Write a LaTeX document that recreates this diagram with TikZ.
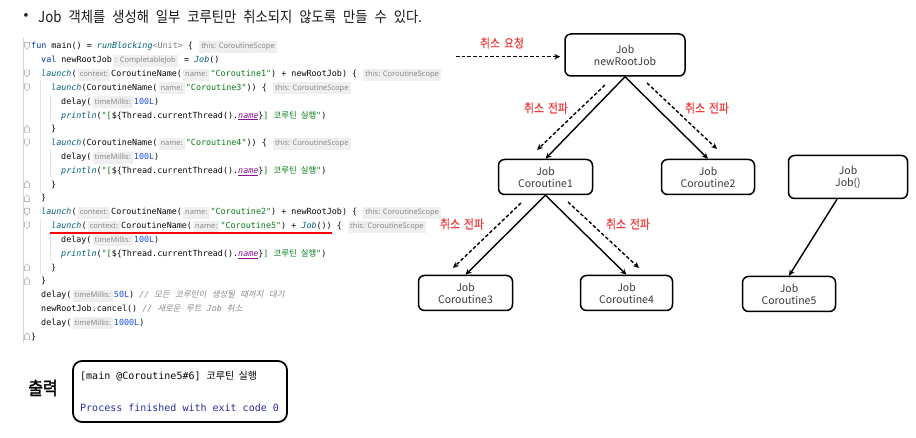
\documentclass[tikz,border=0pt]{standalone}
\usepackage{fontspec}
\usepackage{graphicx}
\usetikzlibrary{arrows.meta,calc}
\setmainfont{Noto Sans CJK KR}
\newfontfamily\krsans{Noto Sans CJK KR}
\newfontfamily\krlbl[FakeBold=0.6]{Noto Sans CJK KR}
\newfontfamily\krbold[FakeBold=2]{Noto Sans CJK KR}
\newfontfamily\codefont{DejaVu Sans Mono}
\newfontfamily\krcodeit[FakeSlant=0.2]{Noto Sans CJK KR}
\newfontfamily\hintfont{Noto Sans}
\definecolor{kwc}{HTML}{0033B3}
\definecolor{fnc}{HTML}{00627A}
\definecolor{strc}{HTML}{067D17}
\definecolor{numc}{HTML}{1750EB}
\definecolor{namec}{HTML}{871094}
\definecolor{cmc}{HTML}{8C8C8C}
\definecolor{codefg}{HTML}{080808}
\definecolor{hintbg}{HTML}{EFEFEF}
\definecolor{hintfg}{HTML}{8A8A8A}
\definecolor{lblred}{HTML}{F03C3C}
\definecolor{outblue}{HTML}{2B2BA6}
\definecolor{gutter}{HTML}{D6D6D6}
\definecolor{guide}{HTML}{E4E4E4}
\definecolor{boxtext}{HTML}{3A3A3A}
\definecolor{titlec}{HTML}{1A1A1A}
\newcommand\ckw[1]{{\color{kwc}#1}}
\newcommand\cfn[1]{{\color{fnc}\itshape #1}}
\newcommand\cstr[1]{{\color{strc}#1}}
\newcommand\cnum[1]{{\color{numc}#1}}
\newcommand\cname[1]{{\color{namec}\itshape\underline{#1}}}
\newcommand\ccm[1]{{\color{cmc}\itshape #1}}
\newcommand\ko[1]{{\krsans #1}}
\newcommand\koit[1]{{\krcodeit #1}}
\newcommand\ksp{\hspace{4pt}}
\newcommand\csp{\hspace{5.5pt}}
\newcommand\tsp{\hspace{7pt}}
\newcommand\chint[1]{\hspace{1.2pt}{\setlength\fboxsep{2pt}\colorbox{hintbg}{\hintfont\fontsize{7.5}{8}\selectfont\color{hintfg}\vrule width0pt height6pt depth2pt #1}}\hspace{1.2pt}}
\newcommand\tall[1]{\scalebox{1}[1.13]{#1}}
\tikzset{
  code/.style={inner sep=0pt, anchor=base west, text=codefg, font=\codefont\fontsize{8.4}{10}\selectfont},
  jobbox/.style={draw, line width=1.5pt, rounded corners=6pt, align=center, inner sep=0pt,
    text=boxtext, font=\krsans\fontsize{10.5}{12}\selectfont},
  arr/.style={line width=1.4pt, -{Stealth[length=6pt,width=5.5pt]}},
  darr/.style={arr, dash pattern=on 3.5pt off 2.2pt},
  lbl/.style={text=lblred, font=\krlbl\fontsize{10.8}{12}\selectfont, inner sep=0pt},
  foldopen/.style={draw=gray!55, line width=0.6pt},
}
\begin{document}
\begin{tikzpicture}[x=1pt,y=-1pt]
\fill[white] (0,0) rectangle (916,438);
\useasboundingbox (0,0) rectangle (916,438);
% title
\node[inner sep=0pt, text=titlec, font=\krsans\fontsize{14}{16}\selectfont] (bul) at (26,17) {•};
\node[inner sep=0pt, anchor=west, text=titlec, font=\krsans\fontsize{13.3}{16}\selectfont] (title) at (38,17) {\tall{Job\tsp 객체를\tsp 생성해\tsp 일부\tsp 코루틴만\tsp 취소되지\tsp 않도록\tsp 만들\tsp 수\tsp 있다.}};
% gutter and guides
\draw[gutter, line width=0.8pt] (23,38) -- (23,343);
\draw[guide, line width=0.7pt] (40,80) -- (40,193) (40,219) -- (40,274);
\draw[guide, line width=0.7pt] (50,94) -- (50,122) (50,149) -- (50,177) (50,233) -- (50,261);
% fold markers
\foreach \yy in {46,73.6,87.5,142.7,211.8,225.7}
  \draw[foldopen] (24.5,\yy-3.5) -- (29.5,\yy-3.5) -- (29.5,\yy+0.8) -- (27,\yy+3.3) -- (24.5,\yy+0.8) -- cycle;
\foreach \yy in {128.9,184.2,198,267.1,280.9,336.2}
  \draw[foldopen] (24.5,\yy+3.5) -- (29.5,\yy+3.5) -- (29.5,\yy-0.8) -- (27,\yy-3.3) -- (24.5,\yy-0.8) -- cycle;
% code lines
\node[code] (L1) at (31,49) {\ckw{fun} main() = \cfn{runBlocking}{\color{gray}<Unit>} \{ \chint{this: CoroutineScope}};
\node[code] (L2) at (41,62.8) {\ckw{val} newRootJob\chint{: CompletableJob} = \cfn{Job}()};
\node[code] (L3) at (41,76.6) {\cfn{launch}(\chint{context:}CoroutineName(\chint{name:}\cstr{"Coroutine1"}) + newRootJob) \{ \chint{this: CoroutineScope}};
\node[code] (L4) at (51,90.5) {\cfn{launch}(CoroutineName(\chint{name:}\cstr{"Coroutine3"})) \{ \chint{this: CoroutineScope}};
\node[code] (L5) at (61,104.3) {delay(\chint{timeMillis:}\cnum{100L})};
\node[code] (L6) at (61,118.1) {\cfn{println}(\cstr{"[}\$\{Thread.currentThread().\cname{name}\}\cstr{] \ko{코루틴\ksp 실행}"})};
\node[code] (L7) at (51,131.9) {\}};
\node[code] (L8) at (51,145.7) {\cfn{launch}(CoroutineName(\chint{name:}\cstr{"Coroutine4"})) \{ \chint{this: CoroutineScope}};
\node[code] (L9) at (61,159.6) {delay(\chint{timeMillis:}\cnum{100L})};
\node[code] (L10) at (61,173.4) {\cfn{println}(\cstr{"[}\$\{Thread.currentThread().\cname{name}\}\cstr{] \ko{코루틴\ksp 실행}"})};
\node[code] (L11) at (51,187.2) {\}};
\node[code] (L12) at (41,201) {\}};
\node[code] (L13) at (41,214.8) {\cfn{launch}(\chint{context:}CoroutineName(\chint{name:}\cstr{"Coroutine2"}) + newRootJob) \{ \chint{this: CoroutineScope}};
\node[code] (L14) at (51,228.7) {\cfn{launch}(\chint{context:}CoroutineName(\chint{name:}\cstr{"Coroutine5"}) + \cfn{Job}()) \{ \chint{this: CoroutineScope}};
\node[code] (L15) at (61,242.5) {delay(\chint{timeMillis:}\cnum{100L})};
\node[code] (L16) at (61,256.3) {\cfn{println}(\cstr{"[}\$\{Thread.currentThread().\cname{name}\}\cstr{] \ko{코루틴\ksp 실행}"})};
\node[code] (L17) at (51,270.1) {\}};
\node[code] (L18) at (41,283.9) {\}};
\node[code] (L19) at (41,297.8) {delay(\chint{timeMillis:}\cnum{50L}) \ccm{// \koit{모든\csp 코루틴이\csp 생성될\csp 때까지\csp 대기}}};
\node[code] (L20) at (41,311.6) {newRootJob.cancel() \ccm{// \koit{새로운\csp 루트} Job \koit{취소}}};
\node[code] (L21) at (41,325.4) {delay(\chint{timeMillis:}\cnum{1000L})};
\node[code] (L22) at (31,339.2) {\}};
% red underline
\coordinate (ul1) at (50,232.8);
\coordinate (ul2) at (332,232.8);
\draw[red, line width=1.8pt] (ul1) -- (ul2);
% output
\node[inner sep=0pt, font=\krbold\fontsize{16}{18}\selectfont] (outlbl) at (43,388) {\tall{출력}};
\node[draw, line width=1.8pt, rounded corners=9pt, minimum width=214pt, minimum height=61pt, inner sep=0pt] (outbox) at (180,391.5) {};
\node[code, anchor=west, font=\codefont\fontsize{10}{12}\selectfont] (out1) at (80,376) {[main @Coroutine5\#6] \ko{코루틴\hspace{4.5pt}실행}};
\node[code, anchor=west, text=outblue, font=\codefont\fontsize{10}{12}\selectfont] (out2) at (80,408) {Process finished with exit code 0};
% tree
\node[jobbox, minimum width=120pt, minimum height=42pt] (root) at (625,55) {Job\\newRootJob};
\node[jobbox, minimum width=94pt, minimum height=35pt] (c1) at (545.5,177) {Job\\Coroutine1};
\node[jobbox, minimum width=93pt, minimum height=35pt] (c2) at (708,177) {Job\\Coroutine2};
\node[jobbox, minimum width=119pt, minimum height=43pt] (jobx) at (848,177) {Job\\Job()};
\node[jobbox, minimum width=94pt, minimum height=35pt] (c3) at (465.5,293) {Job\\Coroutine3};
\node[jobbox, minimum width=92pt, minimum height=35pt] (c4) at (626.5,293) {Job\\Coroutine4};
\node[jobbox, minimum width=93pt, minimum height=35pt] (c5) at (789,294) {Job\\Coroutine5};
\draw[arr] (root.south) -- (c1.north);
\draw[arr] (root.south) -- (c2.north);
\draw[arr] (c1.south) -- (c3.north);
\draw[arr] (c1.south) -- (c4.north);
\draw[arr] ($(jobx.south)+(-11,0)$) -- (c5.north);
% dashed propagation
\coordinate (req) at (456,56.7);
\coordinate (d1s) at (605,85);  \coordinate (d1e) at (537,150);
\coordinate (d2s) at (647,83);  \coordinate (d2e) at (717,149);
\coordinate (d3s) at (521,203); \coordinate (d3e) at (453,268);
\coordinate (d4s) at (568,202); \coordinate (d4e) at (639,268);
\draw[darr, shorten >=4pt] (req) -- (req -| root.west);
\draw[darr] (d1s) -- (d1e);
\draw[darr] (d2s) -- (d2e);
\draw[darr] (d3s) -- (d3e);
\draw[darr] (d4s) -- (d4e);
\node[lbl] (lreq) at (502,43) {\tall{취소\ksp 요청}};
\node[lbl] (lp1) at (546,108) {\tall{취소\ksp 전파}};
\node[lbl] (lp2) at (707,108) {\tall{취소\ksp 전파}};
\node[lbl] (lp3) at (462,224) {\tall{취소\ksp 전파}};
\node[lbl] (lp4) at (628,224) {\tall{취소\ksp 전파}};
\end{tikzpicture}
\end{document}
